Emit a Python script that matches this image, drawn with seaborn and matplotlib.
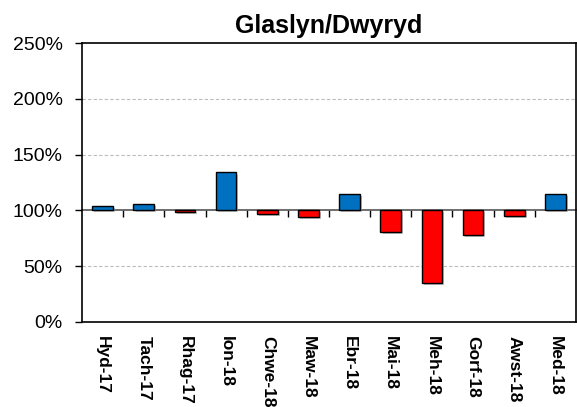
import matplotlib
matplotlib.use("Agg")
import matplotlib.pyplot as plt
import matplotlib.patheffects as pe
import numpy as np
import pandas as pd
import seaborn as sns
from matplotlib.ticker import FuncFormatter, FixedLocator

# Monthly values as % of average, Glaslyn/Dwyryd
months = ["Hyd-17", "Tach-17", "Rhag-17", "Ion-18", "Chwe-18", "Maw-18",
          "Ebr-18", "Mai-18", "Meh-18", "Gorf-18", "Awst-18", "Med-18"]
percent = [104, 106, 99, 134, 97, 94, 115, 81, 35, 78, 95, 115]
baseline = 100
y_ticks = [0, 50, 100, 150, 200, 250]

BLUE = "#0070C0"
RED = "#FF0000"

df = pd.DataFrame({"month": months, "percent": percent})
df["diff"] = df["percent"] - baseline
df["sign"] = np.where(df["diff"] >= 0, "up", "down")

sns.set_style("white")
plt.rcParams["font.family"] = ["Liberation Sans", "DejaVu Sans"]
plt.rcParams["text.color"] = "black"
plt.rcParams["xtick.color"] = "black"
plt.rcParams["ytick.color"] = "black"

fig = plt.figure(figsize=(5.77, 4.07), dpi=100)
ax = fig.add_axes([82 / 577, 1 - 322 / 407, 494 / 577, 279 / 407])

sns.barplot(data=df, x="month", y="diff", hue="sign",
            palette={"up": BLUE, "down": RED}, saturation=1, bottom=baseline,
            width=0.5, edgecolor="black", linewidth=1.0, legend=False, ax=ax,
            path_effects=[pe.SimplePatchShadow(offset=(1.5, -1.5), shadow_rgbFace="#999999", alpha=0.6),
                          pe.Normal()])

ax.set_ylim(0, 250)
ax.set_xlim(-0.5, len(months) - 0.5)
ax.yaxis.set_major_locator(FixedLocator(y_ticks))
ax.yaxis.set_major_formatter(FuncFormatter(lambda v, _: f"{v:.0f}%"))
for v in [50, 150, 200]:
    ax.axhline(v, color="#BBBBBB", linestyle=(0, (3, 2)), linewidth=0.8, zorder=0)

ax.set_xlabel("")
ax.set_ylabel("")
ax.tick_params(axis="y", direction="out", length=5, width=1, color="black",
               labelsize=14, left=True, pad=9)
ax.tick_params(axis="x", length=0, labelsize=12.5, pad=10)
for lbl in ax.get_xticklabels():
    lbl.set_rotation(270)
    lbl.set_fontweight("bold")
    lbl.set_va("top")
    lbl.set_ha("center")

for s in ["left", "top", "bottom", "right"]:
    ax.spines[s].set_visible(True)
    ax.spines[s].set_color("black")
    ax.spines[s].set_linewidth(1.2)

# category axis crossing at 100%
sec = ax.secondary_xaxis(baseline / 250)
sec.set_xticks(np.arange(len(months) - 1) + 0.5)
sec.set_xticklabels([])
sec.tick_params(direction="out", length=5, width=1, color="black")
sec.spines["bottom"].set_color("#555555")
sec.spines["bottom"].set_linewidth(1.2)

ax.set_title("Glaslyn/Dwyryd", fontsize=18, fontweight="bold", pad=7)

fig.savefig("out.png", dpi=100)
